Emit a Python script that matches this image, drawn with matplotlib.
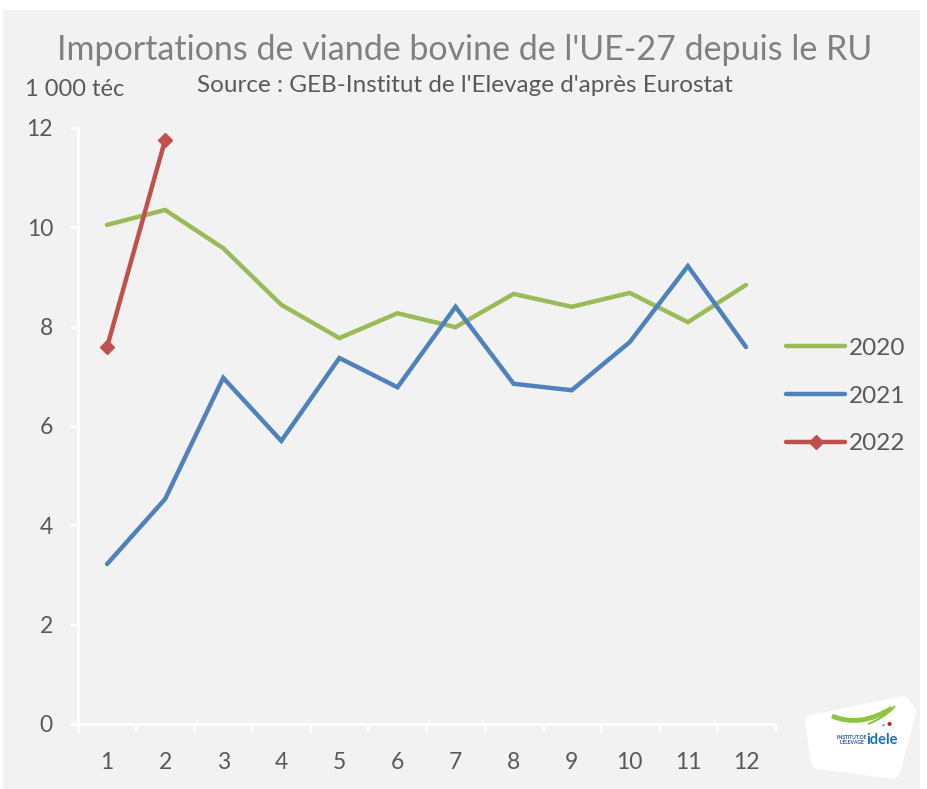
import matplotlib.pyplot as plt
import numpy as np
from matplotlib.patches import FancyBboxPatch, Polygon
from matplotlib.path import Path
from matplotlib.patches import PathPatch

plt.rcParams['font.family'] = ['Lato', 'DejaVu Sans']

months = list(range(1, 13))
imports_2020 = [10.05, 10.35, 9.58, 8.44, 7.77, 8.27, 7.99, 8.66, 8.40, 8.68, 8.09, 8.84]
imports_2021 = [3.22, 4.53, 6.97, 5.70, 7.37, 6.78, 8.40, 6.85, 6.72, 7.69, 9.22, 7.59]
imports_2022 = [7.59, 11.76]

GREEN = '#9bbb59'
BLUE = '#4f81bd'
RED = '#c0504d'
TEXT = '#595959'
BG = '#f2f2f2'


def fx(px):
    return px / 927


def fy(py):
    return 1 - py / 789


fig = plt.figure(figsize=(9.27, 7.89), dpi=100)
fig.patch.set_facecolor('white')
# grey chart area inside a thin white border
fig.patches.append(FancyBboxPatch((fx(3), 0), fx(917), 1 - 10 / 789,
                                  boxstyle='square,pad=0', transform=fig.transFigure,
                                  facecolor=BG, edgecolor='none', zorder=-10))

ax = fig.add_axes([fx(78), fy(724), fx(775 - 78), (724 - 128) / 789])
ax.set_facecolor(BG)

ax.plot(months, imports_2020, color=GREEN, lw=3.2, solid_capstyle='round',
        solid_joinstyle='miter', label='2020')
ax.plot(months, imports_2021, color=BLUE, lw=3.2, solid_capstyle='round',
        solid_joinstyle='miter', label='2021')
ax.plot(months[:len(imports_2022)], imports_2022, color=RED, lw=3.2,
        marker='D', markersize=7, solid_capstyle='round', label='2022')

ax.set_xlim(0.5, 12.5)
ax.set_ylim(0, 12)
ax.set_yticks(range(0, 13, 2))
ax.set_xticks(months)
ax.set_xticks(np.arange(0.5, 13, 1), minor=True)

for side in ['top', 'right']:
    ax.spines[side].set_visible(False)
for side in ['left', 'bottom']:
    ax.spines[side].set_color('white')
    ax.spines[side].set_linewidth(2)

ax.tick_params(axis='y', colors='white', labelcolor=TEXT, labelsize=16.5,
               length=6, width=2, pad=12, direction='out')
ax.tick_params(axis='x', which='major', length=0, labelcolor=TEXT, labelsize=16.5, pad=20)
ax.tick_params(axis='x', which='minor', colors='white', length=6, width=2, direction='out')

leg = ax.legend(loc='center left', bbox_to_anchor=(0.985, 0.55), frameon=False,
                fontsize=17.5, handlelength=2.4, labelspacing=1.1, handletextpad=0.15,
                labelcolor=TEXT)

fig.text(fx(465), fy(50), "Importations de viande bovine de l'UE-27 depuis le RU",
         ha='center', va='center', fontsize=24.5, color='#808080')
fig.text(fx(465), fy(86), "Source : GEB-Institut de l'Elevage d'après Eurostat",
         ha='center', va='center', fontsize=17.5, color=TEXT)
fig.text(fx(25), fy(89), "1 000 téc", ha='left', va='center',
         fontsize=17, color=TEXT)

# idele logo badge, corners rounded by a thick white outline
badge = Polygon([(fx(812), fy(722)), (fx(903), fy(703)), (fx(909), fy(712)),
                 (fx(893), fy(772)), (fx(818), fy(762))],
                closed=True, transform=fig.transFigure, facecolor='white',
                edgecolor='white', lw=10, joinstyle='round')
fig.patches.append(badge)
swoosh = Path([(fx(832), fy(716)), (fx(860), fy(728)), (fx(892), fy(708))],
              [Path.MOVETO, Path.CURVE3, Path.CURVE3])
fig.patches.append(PathPatch(swoosh, transform=fig.transFigure, facecolor='none',
                             edgecolor='#8cc63f', lw=3.5))
fig.patches.append(PathPatch(Path([(fx(868), fy(724)), (fx(884), fy(718)), (fx(895), fy(706))],
                                  [Path.MOVETO, Path.CURVE3, Path.CURVE3]),
                             transform=fig.transFigure, facecolor='none',
                             edgecolor='#8cc63f', lw=1.5))
fig.text(fx(889), fy(723), '●', color='#e30613', fontsize=6, ha='center', va='center')
fig.text(fx(883), fy(725), '●', color='#6aa0d8', fontsize=3.5, ha='center', va='center')
fig.text(fx(852), fy(740), "INSTITUT DE\nL'ÉLEVAGE", fontsize=3.6,
         color='#1d4f91', ha='center', va='center', fontweight='bold', linespacing=1.0)
fig.text(fx(882), fy(740), 'idele', fontsize=10.5, color='#1d6fb8',
         ha='center', va='center', fontweight='bold')

fig.savefig('out.png', dpi=100, facecolor=fig.get_facecolor())
